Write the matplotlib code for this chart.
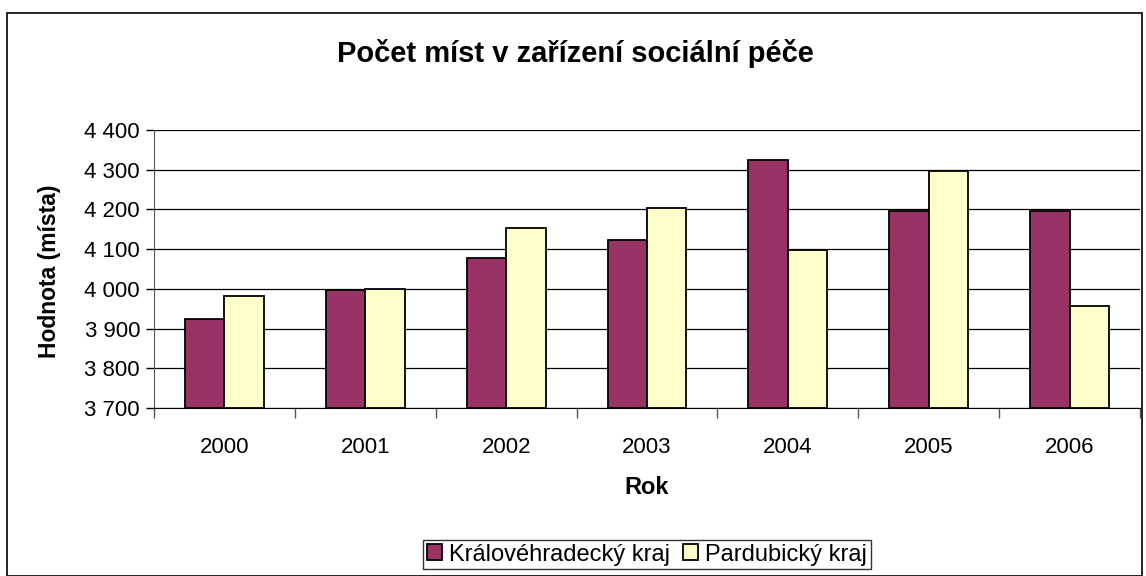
import matplotlib
matplotlib.use("Agg")
import matplotlib.pyplot as plt
from matplotlib.patches import Rectangle
from matplotlib.ticker import FuncFormatter, MultipleLocator
import numpy as np

plt.rcParams['font.family'] = ['Liberation Sans', 'DejaVu Sans']

years = ["2000", "2001", "2002", "2003", "2004", "2005", "2006"]
kralovehradecky = [3923, 3996, 4077, 4124, 4324, 4195, 4195]
pardubicky = [3981, 3999, 4152, 4204, 4099, 4296, 3957]
series_names = ["Královéhradecký kraj", "Pardubický kraj"]
title = "Počet míst v zařízení sociální péče"
xlabel = "Rok"
ylabel = "Hodnota (místa)"

W, H = 1146, 576
fig = plt.figure(figsize=(W / 100, H / 100), dpi=100)

# outer chart border
fig.patches.append(Rectangle((7 / W, 0), (1142 - 7) / W, (H - 13) / H,
                             transform=fig.transFigure, fill=False,
                             edgecolor='black', linewidth=1.2))

left, right, top, bottom = 154, 1140, 130, 408
ax = fig.add_axes([left / W, 1 - bottom / H, (right - left) / W, (bottom - top) / H])

x = np.arange(len(years))
bw = 0.28
ax.bar(x - bw / 2, [v - 3700 for v in kralovehradecky], bw, bottom=3700,
       color='#993366', edgecolor='black', linewidth=1.3, label=series_names[0], zorder=3)
ax.bar(x + bw / 2, [v - 3700 for v in pardubicky], bw, bottom=3700,
       color='#FFFFCC', edgecolor='black', linewidth=1.3, label=series_names[1], zorder=3)

ax.set_xlim(-0.5, len(years) - 0.5)
ax.set_ylim(3700, 4400)
ax.yaxis.set_major_locator(MultipleLocator(100))
ax.yaxis.set_major_formatter(FuncFormatter(lambda v, p: f"{int(v):,}".replace(",", " ")))
ax.grid(axis='y', color='black', linewidth=0.9, zorder=0)

ax.set_xticks(x)
ax.set_xticklabels(years)
ax.set_xticks(np.arange(-0.5, len(years)), minor=True)
ax.tick_params(axis='x', which='major', length=0, pad=21, labelsize=16)
ax.tick_params(axis='x', which='minor', length=7, width=1, color='#555555')
ax.tick_params(axis='y', length=6, width=1, labelsize=16, pad=4)

for s in ['top', 'right']:
    ax.spines[s].set_visible(False)
ax.spines['left'].set_color('#555555')
ax.spines['bottom'].set_color('black')

fig.text(647 / W, 1 - 488 / H, xlabel, ha='center', va='center',
         fontsize=17, fontweight='bold')
fig.text(50 / W, 1 - 271 / H, ylabel, ha='center', va='center', rotation=90,
         fontsize=16.5, fontweight='bold')

fig.text(575 / W, 1 - 53 / H, title, ha='center', va='center',
         fontsize=21, fontweight='bold')

leg = fig.legend(loc='upper center', bbox_to_anchor=(647 / W, 1 - 540 / H), ncol=2,
                 fontsize=17, frameon=True, fancybox=False, edgecolor='black',
                 handlelength=0.65, handleheight=0.65, handletextpad=0.3,
                 columnspacing=0.55, borderpad=0.15, borderaxespad=0)
leg.get_frame().set_linewidth(1.0)

fig.savefig("out.png", dpi=100)
